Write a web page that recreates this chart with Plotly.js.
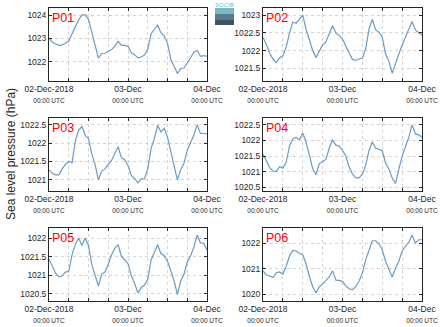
<!DOCTYPE html>
<html>
<head>
<meta charset="utf-8">
<script src="https://cdn.plot.ly/plotly-3.0.1.min.js"></script>
<style>html,body{margin:0;padding:0;background:#fff;}#chart{width:441px;height:327px;}</style>
</head>
<body>
<div id="chart"></div>
<script>
const times = [
 '2018-12-02 00:00','2018-12-02 01:00','2018-12-02 02:00','2018-12-02 03:00','2018-12-02 04:00','2018-12-02 05:00',
 '2018-12-02 06:00','2018-12-02 07:00','2018-12-02 08:00','2018-12-02 09:00','2018-12-02 10:00','2018-12-02 11:00',
 '2018-12-02 12:00','2018-12-02 13:00','2018-12-02 14:00','2018-12-02 15:00','2018-12-02 16:00','2018-12-02 17:00',
 '2018-12-02 18:00','2018-12-02 19:00','2018-12-02 20:00','2018-12-02 21:00','2018-12-02 22:00','2018-12-02 23:00',
 '2018-12-03 00:00','2018-12-03 01:00','2018-12-03 02:00','2018-12-03 03:00','2018-12-03 04:00','2018-12-03 05:00',
 '2018-12-03 06:00','2018-12-03 07:00','2018-12-03 08:00','2018-12-03 09:00','2018-12-03 10:00','2018-12-03 11:00',
 '2018-12-03 12:00','2018-12-03 13:00','2018-12-03 14:00','2018-12-03 15:00','2018-12-03 16:00','2018-12-03 17:00',
 '2018-12-03 18:00','2018-12-03 19:00','2018-12-03 20:00','2018-12-03 21:00','2018-12-03 22:00','2018-12-03 23:00',
 '2018-12-04 00:00'
];

const panelNames = ['P01','P02','P03','P04','P05','P06'];

const p01 = [1023.0,1022.85,1022.76,1022.7,1022.72,1022.8,1022.88,1023.2,1023.5,1023.8,1024.02,1024.02,
 1023.83,1023.3,1022.8,1022.15,1022.35,1022.36,1022.45,1022.52,1022.67,1022.88,1022.7,1022.7,
 1022.66,1022.38,1022.3,1022.16,1022.2,1022.28,1022.52,1023.2,1023.4,1023.58,1023.25,1023.1,
 1022.8,1022.1,1021.8,1021.48,1021.7,1021.72,1021.94,1022.16,1022.41,1022.48,1022.23,1022.26,1022.23];

const p02 = [1022.37,1022.18,1021.93,1021.76,1021.66,1021.79,1021.85,1022.1,1022.49,1022.8,1022.77,1022.88,
 1023.0,1022.6,1022.32,1022.0,1021.8,1021.98,1022.16,1022.25,1022.45,1022.7,1022.49,1022.42,
 1022.32,1022.1,1021.93,1021.75,1021.72,1021.76,1021.78,1022.05,1022.6,1022.88,1022.58,1022.52,
 1022.38,1021.9,1021.7,1021.36,1021.65,1021.9,1022.15,1022.35,1022.6,1022.82,1022.58,1022.5,1022.44];

const p03 = [1021.27,1021.18,1021.14,1021.14,1021.3,1021.42,1021.5,1021.47,1022.05,1022.35,1022.45,1022.21,
 1022.12,1021.7,1021.42,1021.0,1021.24,1021.3,1021.42,1021.53,1021.72,1021.9,1021.6,1021.55,
 1021.39,1021.12,1021.04,1020.92,1021.03,1021.03,1021.3,1021.85,1022.12,1022.48,1022.3,1022.4,
 1022.16,1021.75,1021.4,1021.0,1021.28,1021.45,1021.8,1022.0,1022.22,1022.5,1022.26,1022.26,1022.25];

const p04 = [1021.56,1021.34,1021.13,1021.02,1021.0,1021.16,1021.12,1021.3,1021.83,1022.05,1022.1,1022.02,
 1022.24,1021.95,1021.47,1021.1,1020.9,1021.26,1021.32,1021.4,1021.75,1022.02,1021.85,1021.82,
 1021.68,1021.5,1021.15,1020.93,1020.8,1020.8,1020.92,1021.2,1021.68,1021.95,1021.76,1021.72,
 1021.67,1021.28,1021.08,1020.8,1020.62,1021.07,1021.5,1021.8,1022.1,1022.5,1022.21,1022.18,1022.1];

const p05 = [1021.43,1021.25,1021.05,1020.95,1020.98,1021.08,1021.1,1021.55,1021.82,1022.0,1021.8,1022.0,
 1021.8,1021.29,1021.0,1020.7,1021.02,1021.08,1021.29,1021.55,1021.72,1021.82,1021.5,1021.39,
 1021.31,1020.98,1020.78,1020.52,1020.66,1020.73,1020.88,1021.4,1021.62,1021.82,1021.58,1021.52,
 1021.37,1021.11,1020.85,1020.47,1020.84,1021.02,1021.35,1021.52,1021.75,1022.08,1021.87,1021.86,1021.68];

const p06 = [1020.92,1020.76,1020.72,1020.66,1020.85,1020.88,1020.79,1021.1,1021.5,1021.72,1021.7,1021.6,
 1021.55,1021.2,1020.7,1020.3,1020.05,1020.3,1020.4,1020.52,1020.68,1020.92,1020.56,1020.55,
 1020.5,1020.33,1020.22,1020.18,1020.3,1020.52,1020.82,1021.35,1021.75,1022.1,1022.1,1021.98,
 1021.75,1021.3,1020.98,1020.68,1021.02,1021.3,1021.7,1021.88,1022.05,1022.32,1022.01,1022.14,1022.14];

const tickTimes = ['2018-12-02 00:00','2018-12-02 06:00','2018-12-02 12:00','2018-12-02 18:00',
 '2018-12-03 00:00','2018-12-03 06:00','2018-12-03 12:00','2018-12-03 18:00','2018-12-04 00:00'];
const dayLabels = ['02-Dec-2018','','','','03-Dec','','','','04-Dec'];
const subLabel = '00:00 UTC';
const yTitle = 'Sea level pressure (hPa)';

const series = [p01,p02,p03,p04,p05,p06];
const yRanges = [[1021.16,1024.32],[1021.14,1023.2],[1020.7,1022.68],[1020.38,1022.72],[1020.3,1022.27],[1019.74,1022.6]];
const yDticks = [1,0.5,0.5,0.5,0.5,1];

const W = 441, H = 327;
const colX = [[49,207],[263,422]];
const rowY = [[8,81],[118,191],[228,301]];

const ticktext = dayLabels.map(d => d ? d + '<br><span style="font-size:6.5px">' + subLabel + '</span>' : '');

const data = [];
const layout = {
  width: W, height: H,
  margin: {l:0,r:0,t:0,b:0},
  paper_bgcolor: '#fff', plot_bgcolor: '#fff',
  showlegend: false,
  font: {family: 'Liberation Sans, Arial, sans-serif', color: '#262626', size: 8.5},
  annotations: [], shapes: []
};

series.forEach((vals, i) => {
  const col = i % 2, row = Math.floor(i / 2);
  const sfx = i === 0 ? '' : String(i + 1);
  data.push({
    x: times, y: vals, type: 'scatter', mode: 'lines',
    line: {color: '#6c9bc6', width: 1.2},
    xaxis: 'x' + sfx, yaxis: 'y' + sfx, hoverinfo: 'skip'
  });
  const xd = [colX[col][0] / W, colX[col][1] / W];
  const yd = [1 - rowY[row][1] / H, 1 - rowY[row][0] / H];
  layout['xaxis' + sfx] = {
    domain: xd, anchor: 'y' + sfx, type: 'date',
    range: ['2018-12-02 00:00', '2018-12-04 00:00'],
    tickmode: 'array', tickvals: tickTimes, ticktext: ticktext,
    ticks: 'inside', ticklen: 3, tickcolor: '#262626', tickangle: 0,
    showline: true, linecolor: '#262626', linewidth: 1, mirror: 'ticks',
    showgrid: true, gridcolor: '#d4d4d4', griddash: 'dot', gridwidth: 1,
    zeroline: false, tickfont: {size: 8.5, color: '#262626'}
  };
  layout['yaxis' + sfx] = {
    domain: yd, anchor: 'x' + sfx,
    range: yRanges[i], dtick: yDticks[i], tick0: 1020, tickformat: '.6~g',
    ticks: 'inside', ticklen: 3, tickcolor: '#262626',
    showline: true, linecolor: '#262626', linewidth: 1, mirror: 'ticks',
    showgrid: true, gridcolor: '#d4d4d4', griddash: 'dot', gridwidth: 1,
    zeroline: false, tickfont: {size: 8.5, color: '#262626'}
  };
  layout.annotations.push({
    text: panelNames[i], xref: 'x' + sfx + ' domain', yref: 'y' + sfx + ' domain',
    x: 0, y: 1, xanchor: 'left', yanchor: 'top', xshift: 1, yshift: -1, showarrow: false,
    font: {size: 12.5, color: '#ff0000', family: 'Liberation Sans, Arial, sans-serif'}
  });
});

layout.annotations.push({
  text: yTitle, xref: 'paper', yref: 'paper', x: 11 / W, y: 1 - 154 / H,
  xanchor: 'center', yanchor: 'middle', textangle: -90, showarrow: false,
  font: {size: 12, color: '#262626'}
});

// SOCIB logo approximation
layout.shapes.push(
  {type: 'rect', xref: 'paper', yref: 'paper', x0: 215 / W, x1: 234 / W, y0: 1 - 14 / H, y1: 1 - 8 / H, fillcolor: '#7ab8c4', line: {width: 0}},
  {type: 'rect', xref: 'paper', yref: 'paper', x0: 215 / W, x1: 234 / W, y0: 1 - 20 / H, y1: 1 - 14 / H, fillcolor: '#587a8a', line: {width: 0}},
  {type: 'rect', xref: 'paper', yref: 'paper', x0: 215 / W, x1: 234 / W, y0: 1 - 25 / H, y1: 1 - 20 / H, fillcolor: '#3f5462', line: {width: 0}}
);
layout.annotations.push({
  text: 'SOCIB', xref: 'paper', yref: 'paper', x: 224.5 / W, y: 1 - 5 / H,
  xanchor: 'center', yanchor: 'middle', showarrow: false,
  font: {size: 6, color: '#5fc0cf'}
});

Plotly.newPlot('chart', data, layout, {staticPlot: true, displayModeBar: false});
</script>
</body>
</html>
